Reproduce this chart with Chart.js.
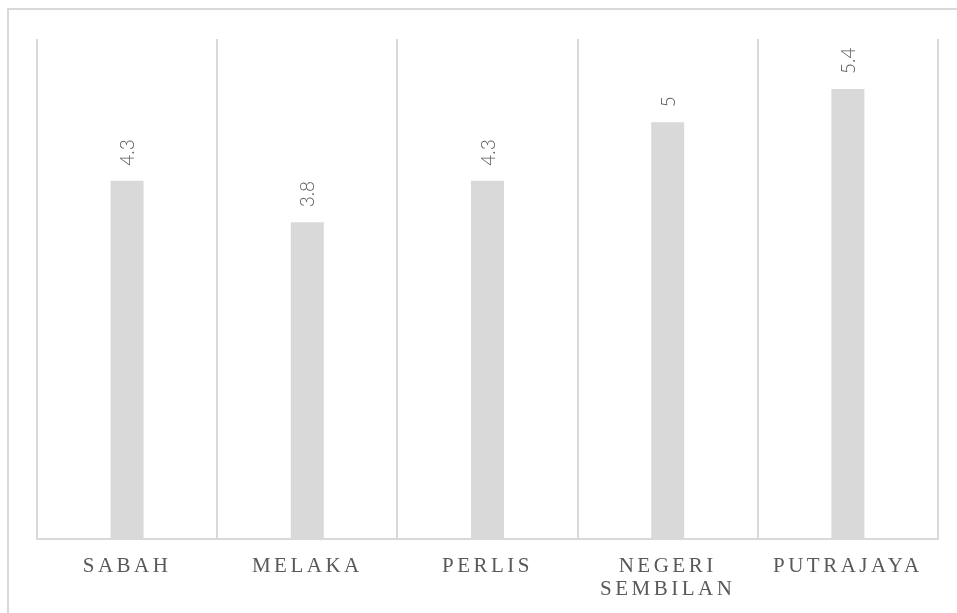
<!DOCTYPE html>
<html>
<head>
<meta charset="utf-8">
<script src="https://cdn.jsdelivr.net/npm/chart.js@4"></script>
<style>
    html, body { margin: 0; padding: 0; background: #FFFFFF; overflow: hidden; }
    #frame {
        position: absolute;
        left: 7px;
        top: 8px;
        width: 1000px;
        height: 1000px;
        border: 2px solid #D9D9D9;
    }
    #wrap { position: absolute; left: 0; top: 0; width: 957px; height: 613px; }
</style>
</head>
<body>
<div id="frame"></div>
<div id="wrap"><canvas id="chart" width="957" height="613"></canvas></div>
<script>
"use strict";

// data
const states = ['SABAH', 'MELAKA', 'PERLIS', ['NEGERI', 'SEMBILAN'], 'PUTRAJAYA'];
const values = [4.3, 3.8, 4.3, 5, 5.4];
const yMin = 0;
const yMax = 6;

const labelGrey = '#595959';
const barGrey = '#D9D9D9';

// letter spacing for the category labels, data labels drawn after bars
const spacingPlugin = {
    id: 'spacing',
    beforeDraw(chart) {
        chart.ctx.letterSpacing = '3.5px';
    },
    beforeDatasetsDraw(chart) {
        chart.ctx.letterSpacing = '0px';
    }
};

const valueLabels = {
    id: 'valueLabels',
    afterDatasetsDraw(chart) {
        const ctx = chart.ctx;
        const meta = chart.getDatasetMeta(0);
        ctx.save();
        ctx.letterSpacing = '0px';
        ctx.fillStyle = labelGrey;
        ctx.font = '300 19px Lato, "Noto Sans", sans-serif';
        ctx.textAlign = 'left';
        ctx.textBaseline = 'middle';
        meta.data.forEach((bar, i) => {
            ctx.save();
            ctx.translate(bar.x + 1, bar.y - 15);
            ctx.rotate(-Math.PI / 2);
            ctx.fillText(String(values[i]), 0, 0);
            ctx.restore();
        });
        ctx.restore();
    }
};

const ctx = document.getElementById('chart').getContext('2d');

new Chart(ctx, {
    type: 'bar',
    data: {
        labels: states,
        datasets: [{
            data: values,
            backgroundColor: barGrey,
            borderWidth: 0,
            categoryPercentage: 1,
            barPercentage: 0.183
        }]
    },
    options: {
        responsive: false,
        animation: false,
        layout: {
            padding: { left: 37, right: 19, top: 39, bottom: 0 }
        },
        plugins: {
            legend: { display: false },
            tooltip: { enabled: false }
        },
        scales: {
            x: {
                offset: true,
                grid: {
                    offset: true,
                    color: '#D9D9D9',
                    lineWidth: 2,
                    drawTicks: false
                },
                border: {
                    display: true,
                    color: '#D9D9D9',
                    width: 2
                },
                ticks: {
                    color: labelGrey,
                    padding: 16,
                    maxRotation: 0,
                    autoSkip: false,
                    font: {
                        family: '"Liberation Serif", "Times New Roman", serif',
                        size: 21,
                        lineHeight: 1.1
                    }
                },
                afterFit(scale) {
                    scale.height = 74;
                }
            },
            y: {
                display: false,
                min: yMin,
                max: yMax
            }
        }
    },
    plugins: [spacingPlugin, valueLabels]
});
</script>
</body>
</html>
